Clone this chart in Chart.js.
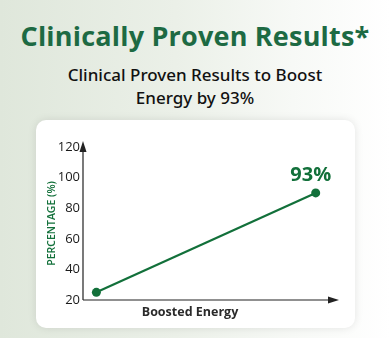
<!DOCTYPE html>
<html>
<head>
<meta charset="utf-8">
<script src="https://cdn.jsdelivr.net/npm/chart.js@4"></script>
<style>
  html, body { margin: 0; padding: 0; }
  body {
    width: 390px; height: 338px; overflow: hidden; position: relative;
    background: linear-gradient(90deg, #dfe7db 0%, #ebf0e8 45%, #f7f9f6 75%, #ffffff 100%);
    font-family: "Open Sans", sans-serif;
  }
  #title {
    position: absolute; left: 0; width: 390px; top: 17px; text-align: center;
    font-size: 27px; font-weight: 700; color: #1d6a43; letter-spacing: 0.2px;
  }
  #sub {
    position: absolute; left: 0; width: 390px; top: 63px; text-align: center;
    font-family: "Noto Sans", sans-serif;
    font-size: 17px; font-weight: 500; color: #111; line-height: 23px;
  }
  #card {
    position: absolute; left: 36px; top: 120px; width: 319px; height: 208px;
    background: #fff; border-radius: 10px;
    box-shadow: 0 0 8px rgba(0,0,0,0.10);
  }
  #wrap { position: absolute; left: 0; top: 0; width: 319px; height: 208px; }
  #xtitle {
    position: absolute; left: 0; width: 308px; top: 183px; text-align: center;
    font-size: 12.5px; font-weight: 700; color: #2a2a2a;
  }
</style>
</head>
<body>
<div id="title">Clinically Proven Results*</div>
<div id="sub">Clinical Proven Results to Boost<br>Energy by 93%</div>
<div id="card">
  <div id="wrap"><canvas id="myChart"></canvas></div>
  <div id="xtitle">Boosted Energy</div>
</div>
<script>
// données du graphique
const etapes = [0, 1];            // avant / après
const valeurs = [25, 90];         // pourcentage
const etiquette = '93%';
const ticksY = [20, 40, 60, 80, 100, 120];

const vert = '#12703a';

// axes avec flèches + étiquette 93%
const flechesPlugin = {
  id: 'fleches',
  afterDraw(chart) {
    const c = chart.ctx;
    const a = chart.chartArea;
    c.save();
    c.strokeStyle = '#222';
    c.fillStyle = '#222';
    c.lineWidth = 1.2;
    c.beginPath();
    c.moveTo(a.left, a.bottom);
    c.lineTo(a.left, a.top - 2);
    c.moveTo(a.left, a.bottom);
    c.lineTo(a.right - 2, a.bottom);
    c.stroke();
    // tête verticale
    c.beginPath();
    c.moveTo(a.left, a.top - 6);
    c.lineTo(a.left - 3.5, a.top + 5);
    c.lineTo(a.left + 3.5, a.top + 5);
    c.closePath();
    c.fill();
    // tête horizontale
    c.beginPath();
    c.moveTo(a.right + 4, a.bottom);
    c.lineTo(a.right - 7, a.bottom - 3.5);
    c.lineTo(a.right - 7, a.bottom + 3.5);
    c.closePath();
    c.fill();
    // étiquette
    const meta = chart.getDatasetMeta(0);
    const p = meta.data[meta.data.length - 1];
    c.fillStyle = vert;
    c.font = 'bold 20px "Open Sans"';
    c.textAlign = 'center';
    c.textBaseline = 'alphabetic';
    c.fillText(etiquette, p.x - 5, p.y - 12);
    c.restore();
  }
};

const ctx = document.getElementById('myChart');

new Chart(ctx, {
  type: 'line',
  data: {
    datasets: [{
      data: etapes.map((x, i) => ({ x: x, y: valeurs[i] })),
      borderColor: vert,
      backgroundColor: vert,
      borderWidth: 2.2,
      pointRadius: 4.5,
      pointBackgroundColor: vert,
      pointBorderWidth: 0,
      clip: false
    }]
  },
  options: {
    responsive: true,
    maintainAspectRatio: false,
    animation: false,
    layout: { padding: { top: 27, right: 20, bottom: 0, left: 10 } },
    plugins: { legend: { display: false }, tooltip: { enabled: false } },
    scales: {
      x: {
        type: 'linear',
        min: -0.061,
        max: 1.088,
        grid: { display: false, drawTicks: false },
        border: { display: false },
        ticks: { display: false },
        afterFit(s) { s.height = 28; }
      },
      y: {
        min: 20,
        max: 120,
        afterBuildTicks(s) { s.ticks = ticksY.map(v => ({ value: v })); },
        grid: { display: false, drawTicks: false },
        border: { display: false },
        ticks: {
          color: '#1a1a1a',
          font: { family: 'Open Sans', size: 13, weight: '500' },
          padding: 3
        },
        title: {
          display: true,
          text: 'PERCENTAGE (%)',
          color: vert,
          font: { family: 'Open Sans', size: 10.5, weight: '600' },
          padding: { top: 0, bottom: 2 }
        },
        afterFit(s) { s.width = 37; }
      }
    }
  },
  plugins: [flechesPlugin]
});
</script>
</body>
</html>
